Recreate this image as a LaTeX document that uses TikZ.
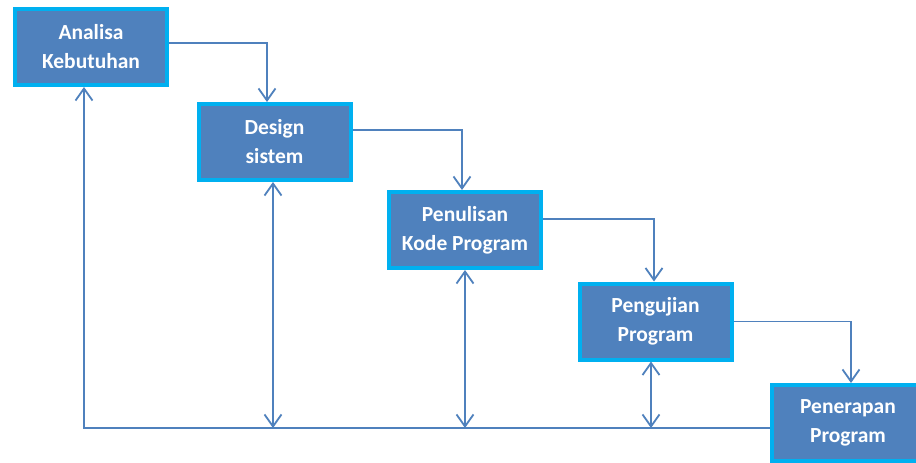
\documentclass[tikz,border=0pt]{standalone}
\usepackage{fontspec}
\setmainfont{Carlito}
\usetikzlibrary{arrows.meta}

\definecolor{blok}{RGB}{79,129,189}
\definecolor{ramka}{RGB}{0,176,240}
\definecolor{liniya}{RGB}{79,129,189}

\begin{document}
\begin{tikzpicture}[x=1pt, y=-1pt,
		>={Straight Barb[length=12pt, width=17pt]},
		tahap/.style={draw=ramka, fill=blok, line width=4pt, minimum width=152pt, minimum height=76pt, align=center, text=white, font=\bfseries\fontsize{21.5}{29}\selectfont},
		garis/.style={draw=liniya, line width=1.8pt}]
				% Поле рисунка
				\useasboundingbox (0,0) rectangle (916,463);
				\fill[white] (0,0) rectangle (916,463);
				\clip (0,0) rectangle (916,463);
				
				% Этапы (блоки лесенкой)
				\node[tahap] (analisa) at (91,47) {Analisa\\Kebutuhan};
				\node[tahap] (desain) at (274.5,142) {Design\\sistem};
				\node[tahap] (kode) at (465,230) {Penulisan\\Kode Program};
				\node[tahap] (uji) at (655.5,321.5) {Pengujian\\Program};
				\node[tahap] (terap) at (848,423) {Penerapan\\Program};
				
				% Переходы вниз по лестнице
				\draw[garis, ->] ([yshift=4pt]analisa.east) -| ([xshift=-7.5pt]desain.north);
				\draw[garis, ->] ([yshift=12pt]desain.east) -| ([xshift=-3pt]kode.north);
				\draw[garis, ->] ([yshift=11pt]kode.east) -| ([xshift=-1.5pt]uji.north);
				\draw[garis, ->] (uji.east) -| ([xshift=3pt]terap.north);
				
				% Нижняя линия обратной связи
				\coordinate (sudut) at (84,428);
				\draw[garis, ->] ([yshift=-5pt]terap.west) -- (sudut) -- (sudut |- analisa.south);
				
				% Двусторонние стрелки к нижней линии
				\draw[garis, <->] ([xshift=-1.5pt]desain.south) -- ([xshift=-1.5pt]desain.south |- sudut);
				\draw[garis, <->] (kode.south) -- (kode.south |- sudut);
				\draw[garis, <->] ([xshift=-4.5pt]uji.south) -- ([xshift=-4.5pt]uji.south |- sudut);
			\end{tikzpicture}
\end{document}
